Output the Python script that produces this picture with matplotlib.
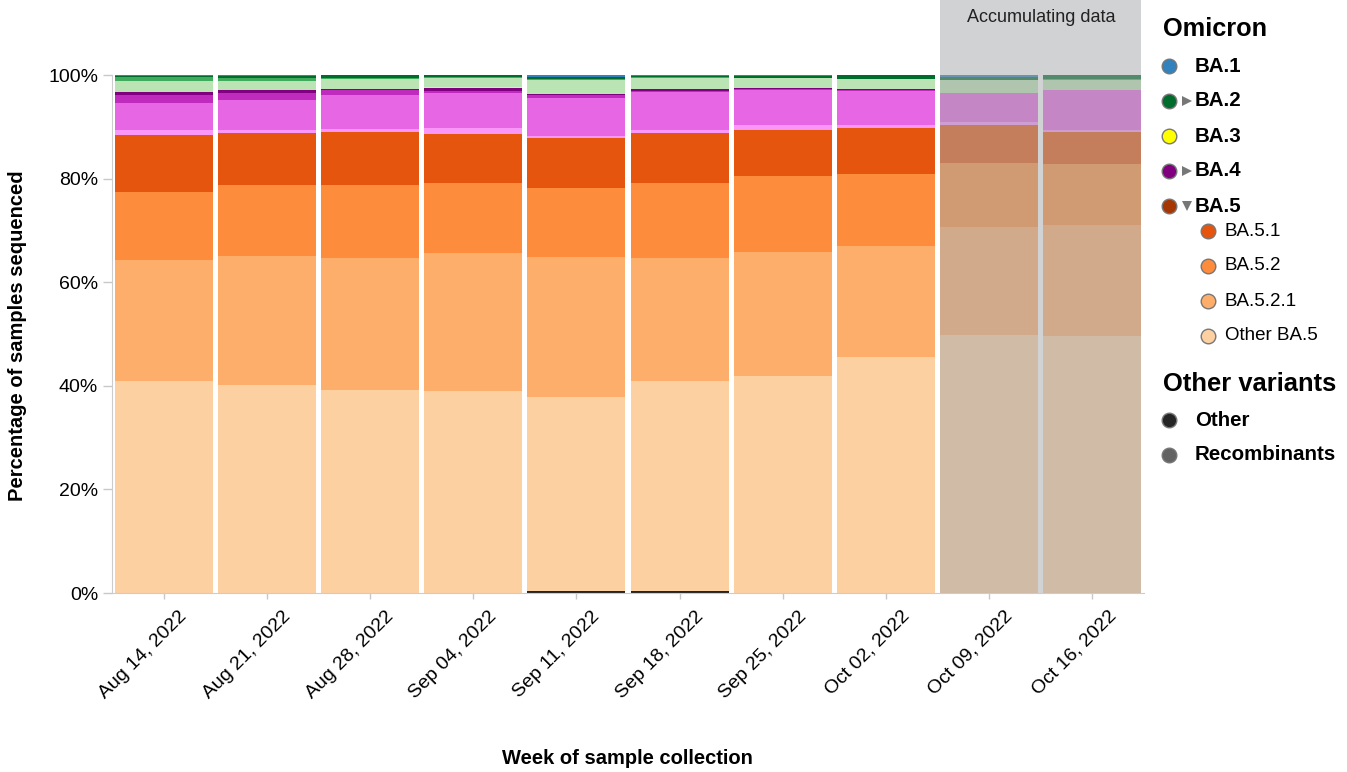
import numpy as np
import matplotlib.pyplot as plt
from matplotlib.patches import Rectangle
from matplotlib.lines import Line2D
import matplotlib.transforms as mtransforms

plt.rcParams['font.family'] = ['Liberation Sans', 'DejaVu Sans']

# ===============================
# Data (percent of sequenced samples per week)
# ===============================
weeks = ["Aug 14, 2022", "Aug 21, 2022", "Aug 28, 2022", "Sep 04, 2022", "Sep 11, 2022",
         "Sep 18, 2022", "Sep 25, 2022", "Oct 02, 2022", "Oct 09, 2022", "Oct 16, 2022"]

other       = [0.0, 0.0, 0.0, 0.0, 0.3, 0.3, 0.0, 0.0, 0.0, 0.0]
recomb      = [0.0, 0.0, 0.0, 0.0, 0.0, 0.0, 0.0, 0.0, 0.0, 0.0]
other_ba5   = [40.9, 40.2, 39.2, 39.0, 37.5, 40.6, 41.9, 45.6, 49.8, 49.6]
ba521       = [23.4, 24.9, 25.5, 26.6, 27.1, 23.8, 23.9, 21.4, 20.9, 21.4]
ba52        = [13.1, 13.7, 14.1, 13.6, 13.3, 14.5, 14.7, 13.9, 12.3, 11.8]
ba51        = [11.0, 10.0, 10.2, 9.4, 9.6, 9.6, 8.9, 8.9, 7.3, 6.2]
ba4_pink    = [1.0, 0.6, 0.6, 1.2, 0.4, 0.6, 0.9, 0.5, 0.6, 0.4]
ba4_magenta = [5.2, 5.8, 6.5, 6.7, 7.4, 7.3, 6.8, 6.6, 5.6, 7.7]
ba4_violet  = [1.5, 1.3, 1.0, 0.4, 0.5, 0.2, 0.2, 0.2, 0.0, 0.0]
ba4         = [0.6, 0.6, 0.2, 0.6, 0.2, 0.4, 0.2, 0.2, 0.0, 0.0]
ba3         = [0.0, 0.0, 0.0, 0.2, 0.0, 0.0, 0.0, 0.0, 0.0, 0.0]
ba2_light   = [2.1, 1.7, 1.9, 1.7, 2.7, 2.1, 1.9, 1.9, 2.5, 1.9]
ba2_mid     = [0.8, 0.6, 0.2, 0.2, 0.3, 0.2, 0.1, 0.0, 0.0, 0.3]
ba2         = [0.2, 0.4, 0.6, 0.4, 0.4, 0.2, 0.3, 0.8, 0.6, 0.7]
ba1         = [0.2, 0.2, 0.0, 0.0, 0.3, 0.2, 0.2, 0.0, 0.4, 0.0]

# stacking order, bottom to top
stack = [
    (other, "#252525"), (recomb, "#636363"),
    (other_ba5, "#fdd0a2"), (ba521, "#fdae6b"), (ba52, "#fd8d3c"), (ba51, "#e6550d"),
    (ba4_pink, "#f996f7"), (ba4_magenta, "#e766e3"), (ba4_violet, "#bf2bbd"), (ba4, "#800080"),
    (ba3, "#ffff00"),
    (ba2_light, "#bae4b3"), (ba2_mid, "#41ab5d"), (ba2, "#006d2c"),
    (ba1, "#3182bd"),
]

accumulating = 2  # last weeks with incomplete data

# ===============================
# Figure
# ===============================
W, H = 1347, 772
fig = plt.figure(figsize=(W / 100, H / 100), dpi=100)
y0, y1 = 75, 593          # pixel rows of 100% and 0%
px_per_pct = (y1 - y0) / 100
ax = fig.add_axes([112 / W, (H - y1) / H, (1144 - 112) / W, y1 / H])

x = np.arange(len(weeks))
bottom = np.zeros(len(weeks))
for vals, col in stack:
    v = np.array(vals)
    ax.bar(x, v, bottom=bottom, width=0.95, color=col, linewidth=0)
    bottom += v

ax.set_xlim(-0.5, len(weeks) - 0.5)
ax.set_ylim(0, y1 / px_per_pct)

# accumulating data shade
n = len(weeks)
ax.add_patch(Rectangle((n - accumulating - 0.475, 0), accumulating - 0.05, y1 / px_per_pct,
                       facecolor=(165 / 255, 167 / 255, 170 / 255), alpha=0.5,
                       linewidth=0, zorder=5))
ax.text(n - accumulating / 2 - 0.5, (y1 - 17) / px_per_pct, "Accumulating data",
        ha='center', va='center', fontsize=13, color='#222222', zorder=6)

# axes styling
for s in ['top', 'right']:
    ax.spines[s].set_visible(False)
ax.spines['left'].set_bounds(0, 100)
ax.spines['left'].set_color('#cccccc')
ax.spines['bottom'].set_color('#cccccc')
ax.set_yticks([0, 20, 40, 60, 80, 100])
ax.set_yticklabels(["0%", "20%", "40%", "60%", "80%", "100%"])
ax.tick_params(axis='y', length=6.5, width=1, color='#c8c8c8', pad=3.5, labelsize=14)
ax.set_xticks(x)
ax.set_xticklabels(weeks, rotation=45, ha='right', va='center', rotation_mode='anchor')
ax.tick_params(axis='x', length=4.5, width=1, color='#c8c8c8', pad=6, labelsize=14)
offset = mtransforms.ScaledTranslation(21 / 100, -6 / 100, fig.dpi_scale_trans)
for lab in ax.get_xticklabels():
    lab.set_transform(lab.get_transform() + offset)

fig.text(18 / W, 1 - 336 / H, "Percentage of samples sequenced", rotation=90,
         ha='center', va='center', fontsize=14.5, fontweight='bold')
fig.text(627 / W, 1 - 759 / H, "Week of sample collection",
         ha='center', va='center', fontsize=14.5, fontweight='bold')

# ===============================
# Legend (drawn by hand)
# ===============================
def fx(p):
    return p / W

def fy(p):
    return 1 - p / H

def dot(px, py, col):
    fig.add_artist(Line2D([fx(px)], [fy(py)], marker='o', markersize=10.5,
                          markerfacecolor=col, markeredgecolor='#777777',
                          markeredgewidth=1, transform=fig.transFigure))

def tri(px, py, kind):
    fig.add_artist(Line2D([fx(px)], [fy(py)], marker=kind, markersize=7,
                          color='#777777', markeredgewidth=0, transform=fig.transFigure))

fig.text(fx(1163), fy(29), "Omicron", fontsize=18.2, fontweight='bold', va='center')
top_items = [("BA.1", "#3182bd", None), ("BA.2", "#006d2c", '>'), ("BA.3", "#ffff00", None),
             ("BA.4", "#800080", '>'), ("BA.5", "#a63603", 'v')]
for i, (lab, col, arrow) in enumerate(top_items):
    py = 66 + i * 35
    dot(1169, py, col)
    if arrow:
        tri(1187, py, arrow)
    fig.text(fx(1195), fy(py), lab, fontsize=14.8, fontweight='bold', va='center')

sub_items = [("BA.5.1", "#e6550d"), ("BA.5.2", "#fd8d3c"), ("BA.5.2.1", "#fdae6b"),
             ("Other BA.5", "#fdd0a2")]
for i, (lab, col) in enumerate(sub_items):
    py = 231 + i * 35
    dot(1207.5, py, col)
    fig.text(fx(1225), fy(py), lab, fontsize=13.5, va='center')

fig.text(fx(1163), fy(384), "Other variants", fontsize=18.4, fontweight='bold', va='center')
for i, (lab, col) in enumerate([("Other", "#252525"), ("Recombinants", "#636363")]):
    py = 420 + i * 35
    dot(1169, py, col)
    fig.text(fx(1195), fy(py), lab, fontsize=14.8, fontweight='bold', va='center')

fig.savefig("out.png", dpi=100)
